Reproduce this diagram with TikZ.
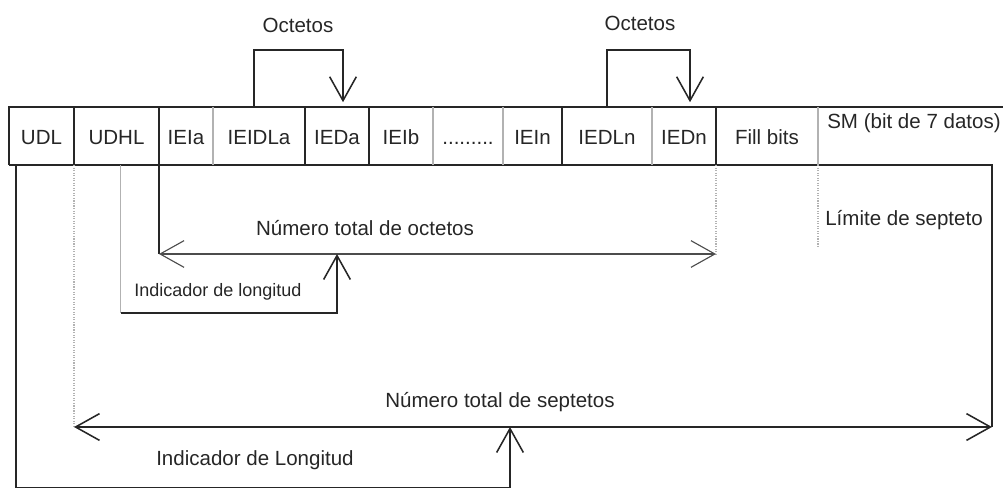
\documentclass[tikz,border=0pt]{standalone}
\usepackage{fontspec}
\setmainfont{Liberation Sans}
\usetikzlibrary{positioning,arrows.meta}

\tikzset{
  cell/.style={minimum height=1.45cm, outer sep=0pt, inner sep=0pt, text height=0.4cm, text depth=0cm},
  ln/.style={line width=1.1pt, black!85},
  lng/.style={line width=0.8pt, gray!60},
  dotln/.style={line width=0.8pt, gray!60, densely dotted},
  barb/.style={-{Straight Barb[length=17pt,width=19pt]}},
  barbs/.style={{Straight Barb[length=17pt,width=19pt]}-{Straight Barb[length=17pt,width=19pt]}}
}

\begin{document}
\begin{tikzpicture}[every node/.style={font=\fontsize{14.6}{17}\selectfont, text=black!85}]
\useasboundingbox (0,0) rectangle (25.075,12.225);

% the row of fields
\node[cell, minimum width=1.625cm] (udl) at (1.0375,8.825) {UDL};
\node[cell, minimum width=2.125cm, right=0pt of udl] (udhl) {UDHL};
\node[cell, minimum width=1.35cm, right=0pt of udhl] (ieia) {IEIa};
\node[cell, minimum width=2.3cm, right=0pt of ieia] (ieidla) {IEIDLa};
\node[cell, minimum width=1.6cm, right=0pt of ieidla] (ieda) {IEDa};
\node[cell, minimum width=1.6cm, right=0pt of ieda] (ieib) {IEIb};
\node[cell, minimum width=1.75cm, right=0pt of ieib] (dots) {.........};
\node[cell, minimum width=1.475cm, right=0pt of dots] (iein) {IEIn};
\node[cell, minimum width=2.25cm, right=0pt of iein] (iedln) {IEDLn};
\node[cell, minimum width=1.6cm, right=0pt of iedln] (iedn) {IEDn};
\node[cell, minimum width=2.55cm, right=0pt of iedn] (fill) {Fill bits};
\node[cell, minimum width=4.8cm, text depth=0.8cm, right=0pt of fill] (sm) {SM (bit de 7 datos)};

\coordinate (octL) at (ieia.south west |- 0,5.875);
\coordinate (octR) at (iedn.south east |- 0,5.875);
\coordinate (octM) at (ieda.south |- 0,5.875);
\coordinate (sepL) at (udl.south east |- 0,1.55);
\coordinate (sepR) at (24.8,1.55);
\coordinate (sepM) at (12.75,1.55);

\draw[ln] (udl.south west) -- (udl.north west) -- ([xshift=0.5cm]sm.north east);
\draw[ln] (udl.south west) -- (sepR |- udl.south) -- (sepR);
\foreach \c in {udl,udhl,ieidla,ieda,iein,iedn}
  \draw[ln] (\c.north east) -- (\c.south east);
\foreach \c in {ieia,ieib,dots,iedln,fill}
  \draw[lng] (\c.north east) -- (\c.south east);

% octetos above
\draw[ln, barb] ([xshift=-0.125cm]ieidla.north) -- ++(0,1.425) -| ([xshift=0.15cm,yshift=0.12cm]ieda.north);
\node (octa) at (7.45,11.6) {Octetos};
\draw[ln, barb] (iedln.north) -- ++(0,1.425) -| ([xshift=0.15cm,yshift=0.12cm]iedn.north);
\node (octn) at (16.0,11.65) {Octetos};

% total de octetos
\draw[ln] (ieia.south west) -- (octL);
\draw[dotln] (iedn.south east) -- (octR);
\draw[line width=0.8pt, black!70, barbs] (octL) -- (octR);
\node (noct) at (9.125,6.525) {Número total de octetos};
\draw[lng] ([xshift=0.1cm]udhl.south) -- ++(0,-3.7);
\draw[ln, barb] ([xshift=0.1cm,yshift=-3.7cm]udhl.south) -| (octM);
\node[font=\fontsize{12.8}{15}\selectfont] (indo) at (5.45,4.925) {Indicador de longitud};

% limite de septeto
\draw[dotln] (fill.south east) -- ++(0,-2.05);
\node[anchor=west, inner sep=0pt] (lim) at (20.625,6.725) {Límite de septeto};

% total de septetos
\draw[dotln] (udl.south east) -- (sepL);
\draw[ln, barbs] (sepL) -- (sepR);
\node (nsep) at (12.5,2.175) {Número total de septetos};
\draw[ln, barb] ([xshift=0.175cm]udl.south west) -- ++(0,-8.06) -| (sepM);
\node (indl) at (6.375,0.725) {Indicador de Longitud};
\end{tikzpicture}
\end{document}
